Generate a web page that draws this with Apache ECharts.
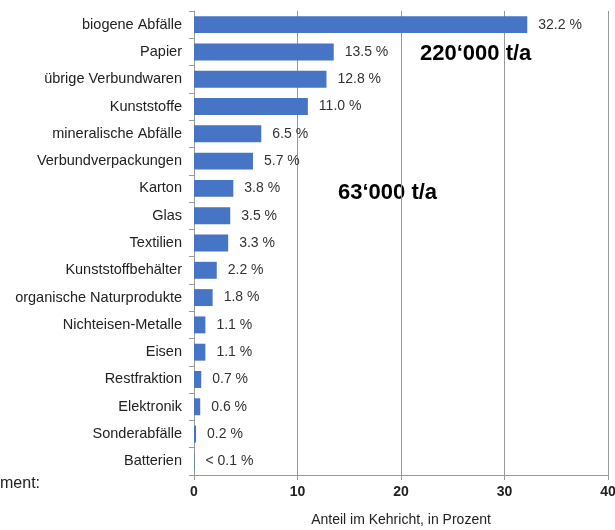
<!DOCTYPE html>
<html><head><meta charset="utf-8">
<script src="https://cdn.jsdelivr.net/npm/echarts@6/dist/echarts.min.js"></script>
<style>html,body{margin:0;padding:0;background:#fff}#c{width:615px;height:530px}</style>
</head><body><div id="c"></div>
<script>
const categories = ["biogene Abfälle","Papier","übrige Verbundwaren","Kunststoffe","mineralische Abfälle","Verbundverpackungen","Karton","Glas","Textilien","Kunststoffbehälter","organische Naturprodukte","Nichteisen-Metalle","Eisen","Restfraktion","Elektronik","Sonderabfälle","Batterien"];
const values = [32.2,13.5,12.8,11.0,6.5,5.7,3.8,3.5,3.3,2.2,1.8,1.1,1.1,0.7,0.6,0.2,0.05];
const valueLabels = ["32.2 %","13.5 %","12.8 %","11.0 %","6.5 %","5.7 %","3.8 %","3.5 %","3.3 %","2.2 %","1.8 %","1.1 %","1.1 %","0.7 %","0.6 %","0.2 %","< 0.1 %"];
const xTicks = [0,10,20,30,40];

const chart = echarts.init(document.getElementById('c'));
const font = 'Liberation Sans, Arial, sans-serif';
chart.setOption({
  animation:false,
  textStyle:{fontFamily:font},
  grid:{left:194,right:7,top:11,bottom:55,containLabel:false,outerBoundsMode:'none'},
  xAxis:{type:'value',min:0,max:40,interval:10,
    name:'Anteil im Kehricht, in Prozent',nameLocation:'middle',nameGap:38,
    nameTextStyle:{fontSize:14,color:'#222',fontFamily:font},
    axisLine:{show:true,lineStyle:{color:'#999'}},
    axisTick:{show:true,length:5,lineStyle:{color:'#999'}},
    axisLabel:{fontWeight:'bold',fontSize:14,color:'#222',margin:10,fontFamily:font,
      formatter:v=>xTicks.includes(v)?String(v):''},
    splitLine:{show:true,lineStyle:{color:'#999',width:1}}},
  yAxis:{type:'category',data:categories,inverse:true,
    axisLine:{show:true,lineStyle:{color:'#999'}},
    axisTick:{show:true,length:5,lineStyle:{color:'#999'}},
    axisLabel:{fontSize:14.5,color:'#222',margin:12,fontFamily:font}},
  series:[{type:'bar',data:values,barCategoryGap:'38%',
    itemStyle:{color:'#4575c4'},
    label:{show:true,position:'right',distance:11,fontSize:14,color:'#333',fontFamily:font,
      formatter:p=>valueLabels[p.dataIndex]}}],
  graphic:[
    {type:'text',left:420,top:43,style:{text:'220‘000 t/a',font:'bold 22px '+font,fill:'#000'}},
    {type:'text',left:338,top:182,style:{text:'63‘000 t/a',font:'bold 22px '+font,fill:'#000'}},
    {type:'text',left:0,top:476,style:{text:'ment:',font:'16px '+font,fill:'#222'}}
  ]
});
</script></body></html>
